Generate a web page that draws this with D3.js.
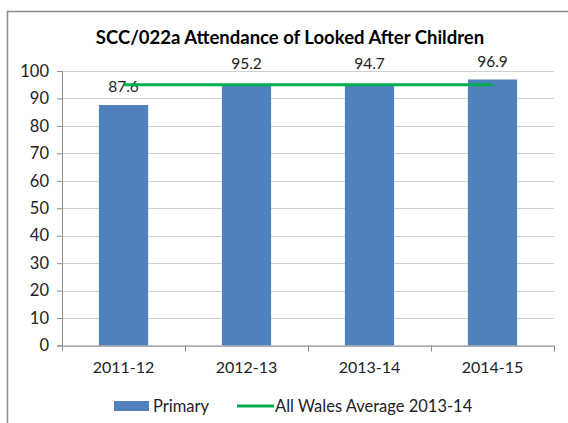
<!DOCTYPE html>
<html>
<head>
<meta charset="utf-8">
<script src="https://cdn.jsdelivr.net/npm/d3@7"></script>
<style>
  body { margin: 0; background: #fff; }
  text { font-family: Lato, "Open Sans", sans-serif; fill: #000; }
</style>
</head>
<body>
<svg id="chart" width="568" height="423"></svg>
<script>
var categories = ["2011-12", "2012-13", "2013-14", "2014-15"];
var primaryValues = [87.6, 95.2, 94.7, 96.9];
var walesAverage = [95, 95, 95, 95];
var yTicks = [0, 10, 20, 30, 40, 50, 60, 70, 80, 90, 100];

var svg = d3.select("#chart");

var margin = { top: 71, right: 14, bottom: 77.5, left: 62 };
var width = 568 - margin.left - margin.right;
var height = 423 - margin.top - margin.bottom;

// outer frame of the chart area (right and bottom run off the picture)
svg.append("path")
  .attr("d", "M7.5,423 V11.5 H568")
  .attr("fill", "none")
  .attr("stroke", "#8c8c8c")
  .attr("stroke-width", 1.5);

svg.append("text")
  .attr("x", 290)
  .attr("y", 44)
  .attr("text-anchor", "middle")
  .style("font-size", "18.5px")
  .style("font-weight", "bold")
  .text("SCC/022a Attendance of Looked After Children");

var g = svg.append("g")
  .attr("transform", "translate(" + margin.left + "," + margin.top + ")");

var x = d3.scaleBand()
  .domain(categories)
  .range([0, width])
  .paddingInner(0.6)
  .paddingOuter(0.3);

var y = d3.scaleLinear()
  .domain([0, 100])
  .range([height, 0]);

// gridlines
g.selectAll(".grid")
  .data(yTicks)
  .enter().append("line")
  .attr("class", "grid")
  .attr("x1", 0)
  .attr("x2", width)
  .attr("y1", function(d) { return Math.round(y(d)) + 0.5; })
  .attr("y2", function(d) { return Math.round(y(d)) + 0.5; })
  .attr("stroke", "#d0d0d0")
  .attr("stroke-width", 1);

// bars
g.selectAll(".bar")
  .data(primaryValues)
  .enter().append("rect")
  .attr("class", "bar")
  .attr("x", function(d, i) { return x(categories[i]); })
  .attr("width", x.bandwidth())
  .attr("y", function(d) { return y(d); })
  .attr("height", function(d) { return height - y(d); })
  .attr("fill", "#4f81bd");

// data labels; ones whose bar ends right at the average line get lifted above it
g.selectAll(".label")
  .data(primaryValues)
  .enter().append("text")
  .attr("class", "label")
  .attr("x", function(d, i) { return x(categories[i]) + x.bandwidth() / 2; })
  .attr("y", function(d, i) {
    if (Math.abs(d - walesAverage[i]) < 1) return y(walesAverage[i]) - 16;
    return y(d) - 13;
  })
  .attr("text-anchor", "middle")
  .style("font-size", "15.5px")
  .style("fill", "#222")
  .text(function(d) { return d.toFixed(1); });

// all wales average line
var line = d3.line()
  .x(function(d, i) { return x(categories[i]) + x.bandwidth() / 2; })
  .y(function(d) { return y(d); });

g.append("path")
  .datum(walesAverage)
  .attr("d", line)
  .attr("fill", "none")
  .attr("stroke", "#00b050")
  .attr("stroke-width", 3);

// y axis
var yAxis = g.append("g")
  .call(d3.axisLeft(y).tickValues(yTicks).tickSize(5).tickPadding(8));
yAxis.selectAll("text").style("font-size", "16.5px").style("fill", "#222");
yAxis.selectAll("line").attr("stroke", "#8c8c8c");
yAxis.select(".domain").attr("stroke", "#8c8c8c");

// x axis with tick marks on the band boundaries
var xAxis = g.append("g")
  .attr("transform", "translate(0," + height + ")")
  .call(d3.axisBottom(x).tickSize(0).tickPadding(16));
xAxis.selectAll("text").style("font-size", "16px").style("fill", "#222");
xAxis.select(".domain").attr("stroke", "#8c8c8c");

xAxis.selectAll(".sep")
  .data(d3.range(categories.length + 1))
  .enter().append("line")
  .attr("class", "sep")
  .attr("x1", function(i) { return Math.round(i * x.step()) + 0.5; })
  .attr("x2", function(i) { return Math.round(i * x.step()) + 0.5; })
  .attr("y1", 0)
  .attr("y2", 6)
  .attr("stroke", "#8c8c8c");

// legend
var legend = svg.append("g").attr("transform", "translate(0,406)");
legend.append("rect")
  .attr("x", 114).attr("y", -5)
  .attr("width", 35).attr("height", 10)
  .attr("fill", "#4f81bd");
legend.append("text")
  .attr("x", 153).attr("y", 6)
  .style("font-size", "16.5px").style("fill", "#222")
  .text("Primary");
legend.append("line")
  .attr("x1", 237).attr("x2", 274)
  .attr("y1", 0).attr("y2", 0)
  .attr("stroke", "#00b050").attr("stroke-width", 3);
legend.append("text")
  .attr("x", 275).attr("y", 6)
  .style("font-size", "16.5px").style("fill", "#222")
  .text("All Wales Average 2013-14");
</script>
</body>
</html>
